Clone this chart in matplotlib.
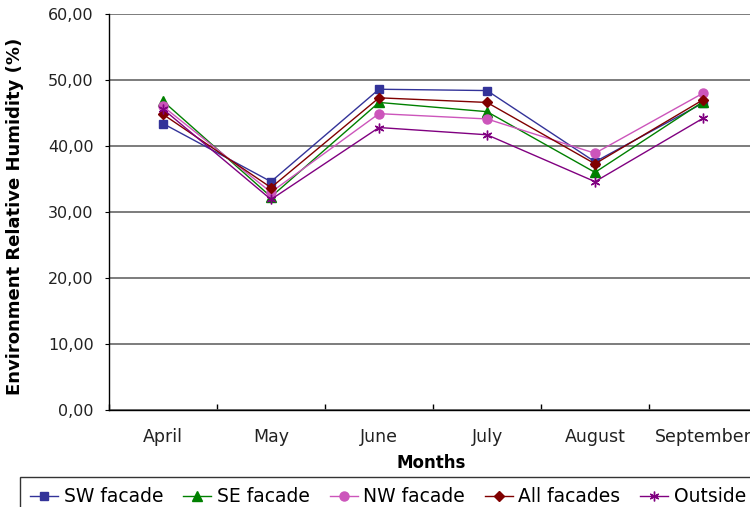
import matplotlib
matplotlib.use("Agg")
import matplotlib.pyplot as plt
from matplotlib.ticker import FuncFormatter, MultipleLocator

plt.rcParams['font.family'] = ['DejaVu Sans']

months = ["April", "May", "June", "July", "August", "September"]

sw_facade = [43.4, 34.6, 48.6, 48.4, 37.6, 46.5]
se_facade = [46.8, 32.3, 46.6, 45.2, 36.0, 46.7]
nw_facade = [46.0, 33.0, 44.9, 44.1, 38.9, 48.0]
all_facades = [44.8, 33.7, 47.3, 46.6, 37.3, 47.0]
outside = [45.6, 31.9, 42.8, 41.7, 34.6, 44.2]

series = [
    ("SW facade", sw_facade, "#333399", "s", 6),
    ("SE facade", se_facade, "#008000", "^", 6.5),
    ("NW facade", nw_facade, "#CC55BB", "o", 6.5),
    ("All facades", all_facades, "#800000", "D", 5),
    ("Outside", outside, "#800080", "x", 7),
]

fig = plt.figure(figsize=(7.5, 5.07), dpi=100)
ax = fig.add_axes([109 / 750, 1 - 410 / 507, 648 / 750, 396 / 507])

x = list(range(len(months)))
for name, vals, color, marker, ms in series:
    kw = dict(color=color, marker=marker, markersize=ms, linewidth=1.0, label=name,
              markerfacecolor=color, markeredgecolor=color)
    if marker == "x":
        kw["marker"] = (6, 2, 0)
        kw["markeredgewidth"] = 1.0
    ax.plot(x, vals, **kw)

ax.set_xlim(-0.5, len(months) - 0.5)
ax.set_ylim(0, 60)
ax.yaxis.set_major_locator(MultipleLocator(10))
ax.yaxis.set_major_formatter(FuncFormatter(lambda v, p: f"{v:.2f}".replace(".", ",")))
ax.grid(axis="y", color="#666666", linewidth=1.2)
ax.set_axisbelow(True)

ax.set_xticks(x)
ax.set_xticklabels(months)
ax.set_xticks([i + 0.5 for i in range(-1, len(months))], minor=True)
ax.tick_params(axis="x", which="major", length=0, pad=13, labelsize=12.5, labelcolor="#222222")
ax.tick_params(axis="x", which="minor", length=4, direction="in", width=1)
ax.tick_params(axis="y", length=3, direction="out", labelsize=11.5, pad=8, labelcolor="#222222")

for s in ["top", "right"]:
    ax.spines[s].set_visible(False)
ax.spines["left"].set_linewidth(1.0)
ax.spines["bottom"].set_linewidth(1.0)

fig.text(431 / 750, 1 - 463 / 507, "Months", fontsize=12, fontweight="bold",
         ha="center", va="center")
fig.text(15 / 750, 1 - 216 / 507, "Environment Relative Humidity (%)", fontsize=13,
         fontweight="bold", ha="center", va="center", rotation=90)

leg = fig.legend(loc="upper left", bbox_to_anchor=(20 / 750, 1 - 477 / 507), ncol=5,
                 frameon=True, fancybox=False, fontsize=13.5, handlelength=1.5,
                 handletextpad=0.3, columnspacing=1.05, borderpad=0.55,
                 borderaxespad=0)
leg.get_frame().set_edgecolor("black")
leg.get_frame().set_linewidth(1.0)

fig.savefig("out.png", dpi=100)
